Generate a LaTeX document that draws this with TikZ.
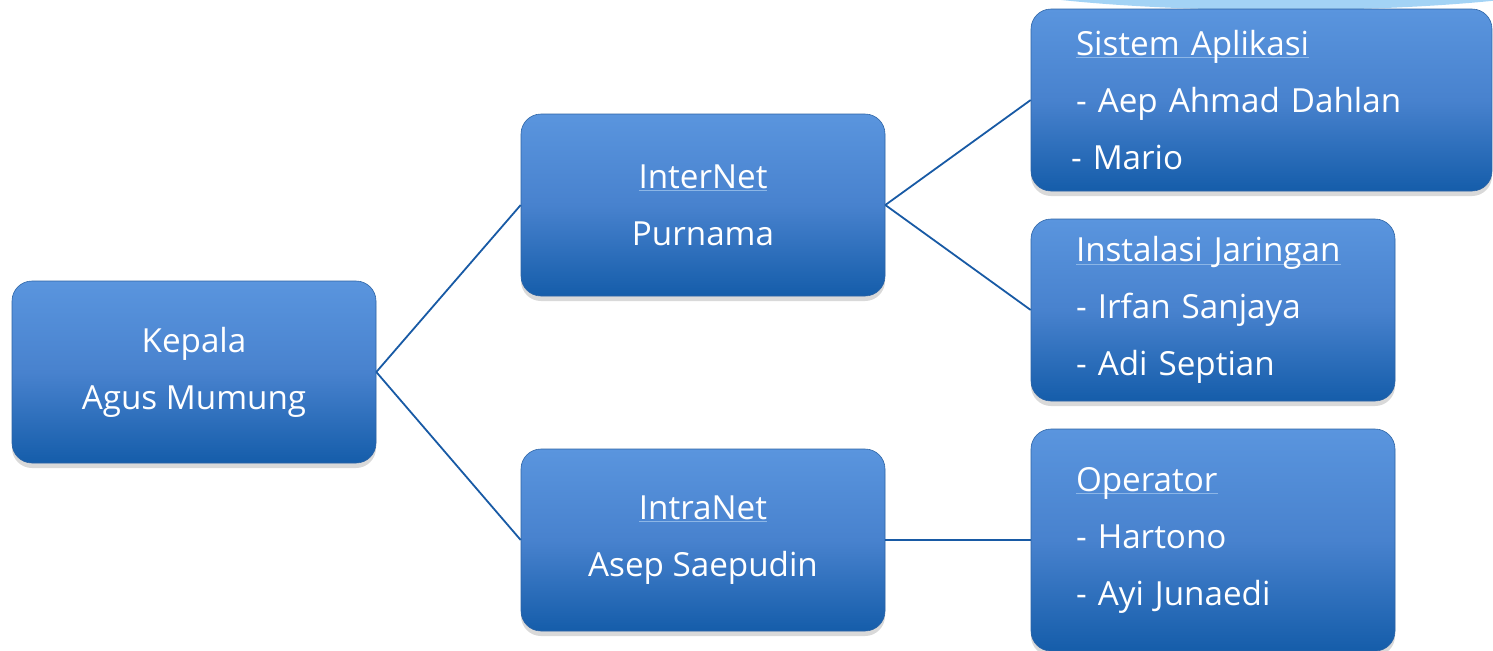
\documentclass[tikz,border=0pt]{standalone}
\usepackage{fontspec}
\setmainfont{Open Sans}
\usetikzlibrary{shadows}
\definecolor{boxtop}{RGB}{90,149,222}
\definecolor{boxmid}{RGB}{72,130,206}
\definecolor{boxbot}{RGB}{21,93,170}
\definecolor{boxline}{RGB}{45,100,165}
\definecolor{linkblue}{RGB}{24,90,165}
\definecolor{ulblue}{RGB}{140,182,230}
\definecolor{capblue}{RGB}{163,211,245}
\newcommand{\hdr}[1]{\setbox0\hbox{#1}\rlap{\color{ulblue}\rule[-1.5pt]{\wd0}{0.5pt}}\box0}

\begin{document}
\begin{tikzpicture}[x=0.5pt, y=-0.5pt,
    orgbox/.style={rounded corners=10pt, top color=boxtop, bottom color=boxbot, middle color=boxmid, draw=boxline, line width=0.3pt, text=white, font=\fontsize{16.6}{28.5}\selectfont, minimum height=91pt, drop shadow={shadow xshift=0pt, shadow yshift=-2.5pt, opacity=0.3}},
    midbox/.style={orgbox, minimum width=182pt, align=center},
    listbox/.style={orgbox, align=left, inner xsep=22.5pt, text width=#1},
    link/.style={color=linkblue, line width=0.9pt}]
    \useasboundingbox (0,0) rectangle (1493,650);
    \begin{scope}
        \clip (0,0) rectangle (1493,650);
        \fill[capblue] (1281,-30) ellipse [x radius=166pt, y radius=20pt];
    \end{scope}
    % middle column and head
    \node[midbox] (kepala) at (194,372) {Kepala\\Agus Mumung};
    \node[midbox] (internet) at (703,205) {\hdr{InterNet}\\Purnama};
    \node[midbox] (intranet) at (703,540) {\hdr{IntraNet}\\Asep Saepudin};
    % staff boxes
    \node[listbox=185.5pt] (sistem) at (1261.5,100) {\hdr{Sistem Aplikasi}\\- Aep Ahmad Dahlan\\\hspace*{-2.5pt}- Mario};
    \node[listbox=137pt] (instalasi) at (1213,310) {\hdr{Instalasi Jaringan}\\- Irfan Sanjaya\\- Adi Septian};
    \node[listbox=137pt, minimum height=111pt] (operator) at (1213,540) {\hdr{Operator}\\- Hartono\\- Ayi Junaedi};
    \draw[link] (kepala.east) -- (internet.west);
    \draw[link] (kepala.east) -- (intranet.west);
    \draw[link] (internet.east) -- (sistem.west);
    \draw[link] (internet.east) -- (instalasi.west);
    \draw[link] (intranet.east) -- (operator.west);
\end{tikzpicture}
\end{document}
